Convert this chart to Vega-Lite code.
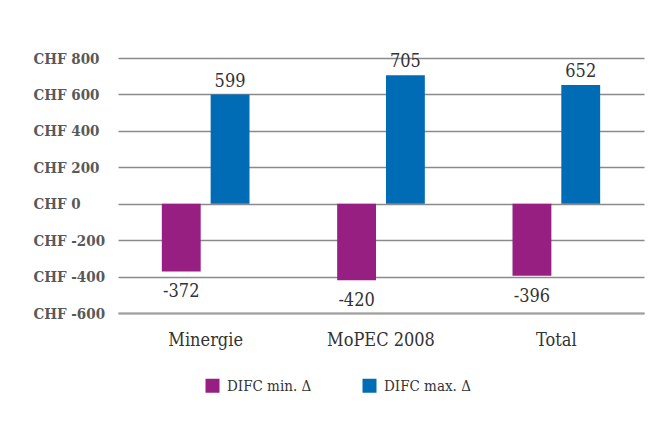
{
  "$schema": "https://vega.github.io/schema/vega-lite/v6.json",
  "width": 526,
  "height": 255,
  "autosize": "none",
  "padding": {"left": 118, "top": 58, "right": 11, "bottom": 110},
  "background": "white",
  "config": {"view": {"stroke": null}, "font": "DejaVu Serif Condensed, DejaVu Serif"},
  "data": {"values": [
    {"cat": "Minergie", "series": "DIFC min. Δ", "value": -372},
    {"cat": "Minergie", "series": "DIFC max. Δ", "value": 599},
    {"cat": "MoPEC 2008", "series": "DIFC min. Δ", "value": -420},
    {"cat": "MoPEC 2008", "series": "DIFC max. Δ", "value": 705},
    {"cat": "Total", "series": "DIFC min. Δ", "value": -396},
    {"cat": "Total", "series": "DIFC max. Δ", "value": 652}
  ]},
  "encoding": {
    "x": {
      "field": "cat", "type": "nominal", "sort": ["Minergie", "MoPEC 2008", "Total"],
      "scale": {"paddingInner": 0, "paddingOuter": 0},
      "axis": {"title": null, "labelAngle": 0, "ticks": false, "domain": true, "domainColor": "#a0a0a0", "domainWidth": 2,
               "labelPadding": 18, "labelFontSize": 18, "labelColor": "#333333", "grid": false}
    },
    "xOffset": {"field": "series", "type": "nominal", "sort": ["DIFC min. Δ", "DIFC max. Δ"],
      "scale": {"paddingInner": 0.204, "paddingOuter": 0.898}},
    "y": {
      "field": "value", "type": "quantitative",
      "scale": {"domain": [-600, 800], "nice": false, "zero": false},
      "axis": {"title": null, "values": [-600, -400, -200, 0, 200, 400, 600, 800],
               "labelExpr": "'CHF ' + datum.value", "labelFontWeight": "bold", "labelFontSize": 15,
               "labelColor": "#595959", "labelAlign": "left", "labelPadding": 85, "ticks": false, "tickSize": 0,
               "domain": false, "grid": true, "gridColor": "#8a8a8a", "gridWidth": 1.3}
    }
  },
  "layer": [
    {
      "mark": {"type": "bar"},
      "encoding": {
        "color": {"field": "series", "type": "nominal",
          "scale": {"domain": ["DIFC min. Δ", "DIFC max. Δ"], "range": ["#971f81", "#006cb5"]},
          "legend": {"title": null, "orient": "none", "legendX": 87, "legendY": 320, "direction": "horizontal",
                     "symbolType": "square", "symbolSize": 196, "symbolStrokeWidth": 0, "labelOffset": 7,
                     "columnPadding": 50, "labelFontSize": 15, "labelColor": "#333333", "padding": 0}
        }
      }
    },
    {
      "transform": [{"filter": "datum.value >= 0"}],
      "mark": {"type": "text", "dy": -8, "baseline": "alphabetic", "fontSize": 18, "color": "#333333"},
      "encoding": {"text": {"field": "value", "type": "nominal"}}
    },
    {
      "transform": [{"filter": "datum.value < 0"}],
      "mark": {"type": "text", "dy": 26, "baseline": "alphabetic", "fontSize": 18, "color": "#333333"},
      "encoding": {"text": {"field": "value", "type": "nominal"}}
    }
  ]
}
